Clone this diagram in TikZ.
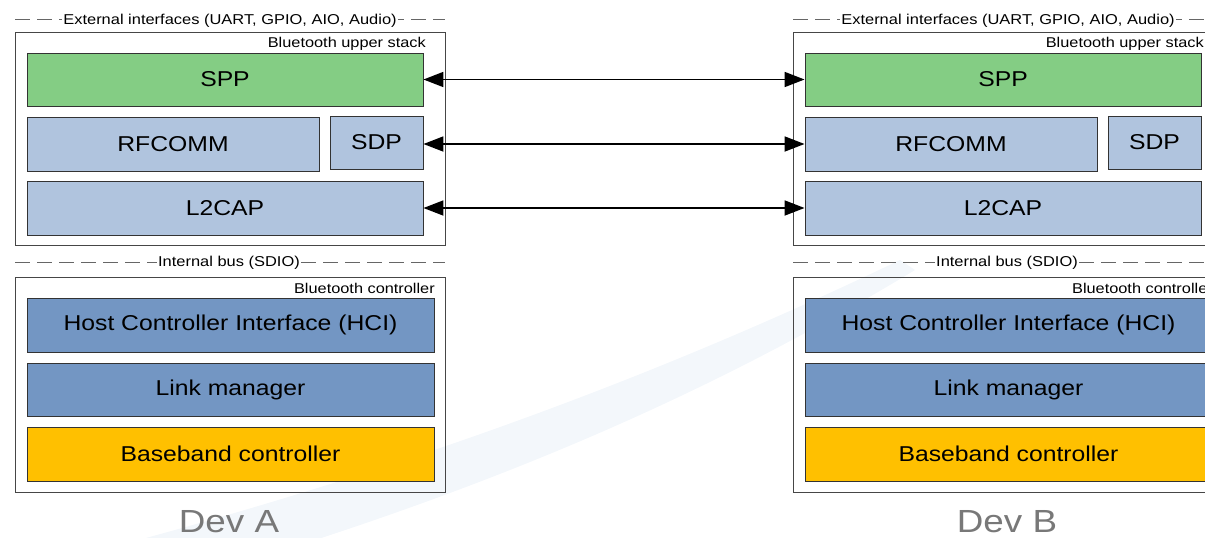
\documentclass[tikz,border=0pt]{standalone}
\usepackage{fontspec}
\setmainfont[FakeStretch=1.15]{Liberation Sans}
\usetikzlibrary{arrows.meta}
\usepackage{xcolor}

\definecolor{sppgreen}{RGB}{132,205,132}
\definecolor{stackblue}{RGB}{176,196,222}
\definecolor{ctrlblue}{RGB}{115,150,195}
\definecolor{bbyellow}{RGB}{255,192,0}
\definecolor{framegray}{RGB}{70,70,70}
\definecolor{devgray}{RGB}{120,120,120}
\definecolor{swoosh}{RGB}{215,228,242}

\tikzset{
  layer/.style={draw=black!80, line width=0.9pt, inner sep=0pt, font=\fontsize{21.5}{25}\selectfont},
  frame/.style={draw=framegray, line width=1pt},
  bus/.style={draw=black!60, line width=0.8pt, dash pattern=on 15pt off 7pt},
  busname/.style={anchor=base, fill=white, inner sep=1pt, font=\fontsize{14.3}{16}\selectfont},
  framename/.style={anchor=base east, inner sep=0pt, font=\fontsize{14.2}{16}\selectfont},
  devname/.style={anchor=base, text=devgray, font=\fontsize{32}{36}\selectfont},
  link/.style={line width=1.8pt, {Triangle[length=20pt,width=15pt]}-{Triangle[length=20pt,width=15pt]}},
}

\begin{document}
\begin{tikzpicture}[x=1pt, y=-1pt]
        \useasboundingbox (0,0) rectangle (1205,538);
        \clip (0,0) rectangle (1205,538);
        \fill[swoosh, opacity=0.3] (120,545) .. controls (400,470) and (650,380) .. (900,260)
            -- (915,270) .. controls (700,400) and (500,480) .. (300,545) -- cycle;

        \foreach \dev/\dx in {A/0,B/778}{
        \begin{scope}[xshift=\dx pt]
            \draw[bus] (15,19) -- (445,19);
            \node[busname] (ext\dev) at (230,24) {External interfaces (UART, GPIO, AIO, Audio)};
            \draw[frame] (15,32) rectangle (445,245);
            \node[framename] (upper\dev) at (426,47) {Bluetooth upper stack};
            \node[layer, fill=sppgreen, minimum width=396, minimum height=53] (spp\dev) at (225,79.5) {SPP};
            \node[layer, fill=stackblue, minimum width=292, minimum height=54] (rfcomm\dev) at (173,144) {RFCOMM};
            \node[layer, fill=stackblue, minimum width=93, minimum height=53] (sdp\dev) at (376.5,142.5) {SDP};
            \node[layer, fill=stackblue, minimum width=396, minimum height=54] (ltcap\dev) at (225,208) {L2CAP};

            \draw[bus] (15,262) -- (445,262);
            \node[busname] (int\dev) at (229,266) {Internal bus (SDIO)};
            \draw[frame] (15,277) rectangle (445,492);
            \node[framename] (ctrl\dev) at (435,293) {Bluetooth controller};
            \node[layer, fill=ctrlblue, minimum width=407, minimum height=54] (hci\dev) at (230.5,325) {Host Controller Interface (HCI)};
            \node[layer, fill=ctrlblue, minimum width=407, minimum height=53] (lm\dev) at (230.5,389.5) {Link manager};
            \node[layer, fill=bbyellow, minimum width=407, minimum height=54] (bb\dev) at (230.5,454) {Baseband controller};
            \node[devname] (name\dev) at (229,532) {Dev \dev};
        \end{scope}
        }

        \draw[link] (sppA.east) -- (sppB.west);
        \draw[link] (sdpA.east |- rfcommB.west) -- (rfcommB.west);
        \draw[link] (ltcapA.east) -- (ltcapB.west);
\end{tikzpicture}
\end{document}
